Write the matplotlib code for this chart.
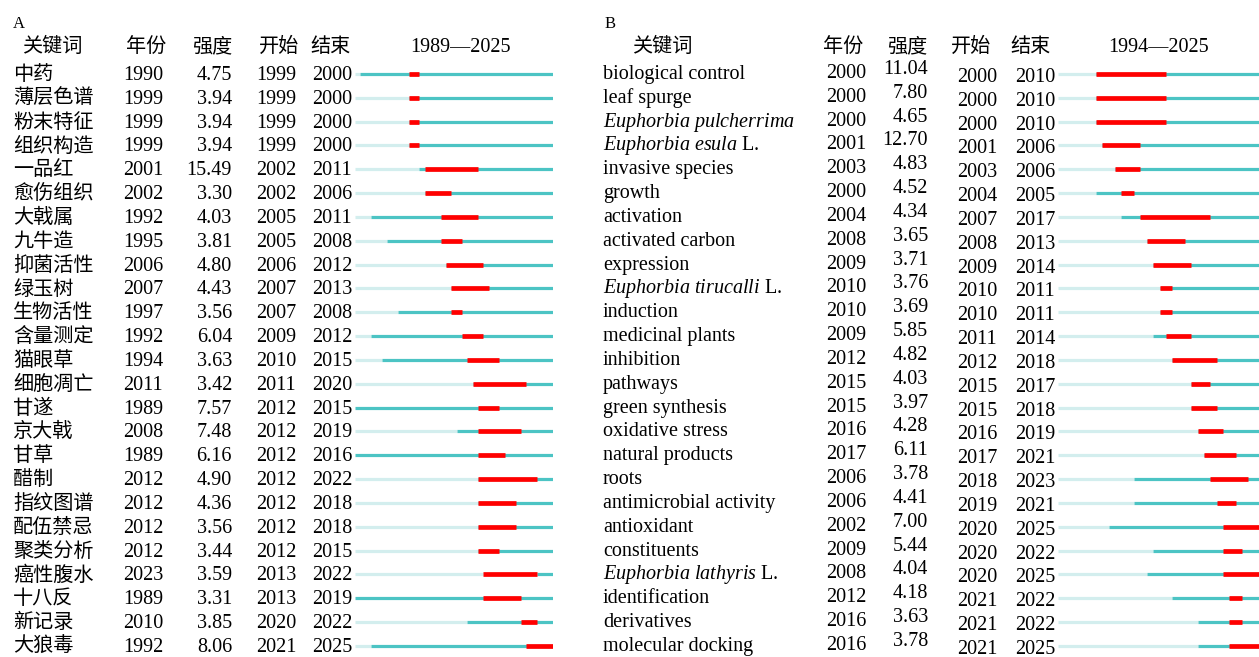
import matplotlib
matplotlib.use("Agg")
import matplotlib.pyplot as plt
from matplotlib import transforms

plt.rcParams["font.family"] = ["Liberation Serif", "Noto Sans CJK SC"]
plt.rcParams["mathtext.fontset"] = "custom"
plt.rcParams["mathtext.rm"] = "Liberation Serif"
plt.rcParams["mathtext.it"] = "Liberation Serif:italic"

W, H = 1259, 657

# panel A: CNKI keywords
a_span = (1989, 2025)
a_keywords = ["中药", "薄层色谱", "粉末特征", "组织构造", "一品红", "愈伤组织", "大戟属",
              "九牛造", "抑菌活性", "绿玉树", "生物活性", "含量测定", "猫眼草", "细胞凋亡",
              "甘遂", "京大戟", "甘草", "醋制", "指纹图谱", "配伍禁忌", "聚类分析",
              "癌性腹水", "十八反", "新记录", "大狼毒"]
a_years = [1990, 1999, 1999, 1999, 2001, 2002, 1992, 1995, 2006, 2007, 1997, 1992, 1994,
           2011, 1989, 2008, 1989, 2012, 2012, 2012, 2012, 2023, 1989, 2010, 1992]
a_strength = [4.75, 3.94, 3.94, 3.94, 15.49, 3.30, 4.03, 3.81, 4.80, 4.43, 3.56, 6.04, 3.63,
              3.42, 7.57, 7.48, 6.16, 4.90, 4.36, 3.56, 3.44, 3.59, 3.31, 3.85, 8.06]
a_begin = [1999, 1999, 1999, 1999, 2002, 2002, 2005, 2005, 2006, 2007, 2007, 2009, 2010,
           2011, 2012, 2012, 2012, 2012, 2012, 2012, 2012, 2013, 2013, 2020, 2021]
a_end = [2000, 2000, 2000, 2000, 2011, 2006, 2011, 2008, 2012, 2013, 2008, 2012, 2015,
         2020, 2015, 2019, 2016, 2022, 2018, 2018, 2015, 2022, 2019, 2022, 2025]

# panel B: WoS keywords
b_span = (1994, 2025)
b_keywords = ["biological control", "leaf spurge", r"$\mathit{Euphorbia\ pulcherrima}$",
              r"$\mathit{Euphorbia\ esula}$ L.", "invasive species", "growth", "activation",
              "activated carbon", "expression", r"$\mathit{Euphorbia\ tirucalli}$ L.",
              "induction", "medicinal plants", "inhibition", "pathways", "green synthesis",
              "oxidative stress", "natural products", "roots", "antimicrobial activity",
              "antioxidant", "constituents", r"$\mathit{Euphorbia\ lathyris}$ L.",
              "identification", "derivatives", "molecular docking"]
b_years = [2000, 2000, 2000, 2001, 2003, 2000, 2004, 2008, 2009, 2010, 2010, 2009, 2012,
           2015, 2015, 2016, 2017, 2006, 2006, 2002, 2009, 2008, 2012, 2016, 2016]
b_strength = [11.04, 7.80, 4.65, 12.70, 4.83, 4.52, 4.34, 3.65, 3.71, 3.76, 3.69, 5.85, 4.82,
              4.03, 3.97, 4.28, 6.11, 3.78, 4.41, 7.00, 5.44, 4.04, 4.18, 3.63, 3.78]
b_begin = [2000, 2000, 2000, 2001, 2003, 2004, 2007, 2008, 2009, 2010, 2010, 2011, 2012,
           2015, 2015, 2016, 2017, 2018, 2019, 2020, 2020, 2020, 2021, 2021, 2021]
b_end = [2010, 2010, 2010, 2006, 2006, 2005, 2017, 2013, 2014, 2011, 2011, 2014, 2018,
         2017, 2018, 2019, 2021, 2023, 2021, 2025, 2022, 2025, 2022, 2022, 2025]

LIGHT = "#d3eeee"
TEAL = "#4cc4c4"
RED = "#ff0000"
FS = 14.5

# timeline of row 0 sits at y=74 px, rows 23.83 px apart
ROW0, ROWH = 74, 23.83
YLIM = ((H - ROW0) / ROWH, -ROW0 / ROWH)


def px(dy):
    # pixel offset -> row units
    return dy / ROWH


def draw_panel(fig, letter, keywords, years, strength, begin, end, span, cols, offs):
    x0, x1 = cols["tl"]
    ax = fig.add_axes([x0 / W, 0, (x1 - x0) / W, 1])
    ax.set_xlim(span[0], span[1] + 1)
    ax.set_ylim(*YLIM)
    ax.axis("off")

    trans = transforms.blended_transform_factory(fig.transFigure, ax.transData)
    hy = px(52 - ROW0)
    ly = px(28 - ROW0)

    fig.text(cols["letter"] / W, ly, letter, transform=trans, fontsize=12, va="baseline")
    heads = [("关键词", cols["kw_h"]), ("年份", cols["yr_h"]), ("强度", cols["st_h"]),
             ("开始", cols["bg_h"]), ("结束", cols["en_h"]),
             (f"{span[0]}—{span[1]}", cols["tl_h"])]
    for txt, x in heads:
        fig.text(x / W, hy, txt, transform=trans, fontsize=FS, ha="center", va="baseline")

    for i, kw in enumerate(keywords):
        fig.text(cols["kw"] / W, i + px(offs["kw"]), kw, transform=trans, fontsize=FS,
                 ha="left", va="baseline")
        fig.text(cols["yr"] / W, i + px(offs["yr"]), str(years[i]), transform=trans,
                 fontsize=FS, ha="center", va="baseline")
        fig.text(cols["st"] / W, i + px(offs["st"]), f"{strength[i]:.2f}", transform=trans,
                 fontsize=FS, ha="right", va="baseline")
        fig.text(cols["bg"] / W, i + px(offs["bg"]), str(begin[i]), transform=trans,
                 fontsize=FS, ha="center", va="baseline")
        fig.text(cols["en"] / W, i + px(offs["bg"]), str(end[i]), transform=trans,
                 fontsize=FS, ha="center", va="baseline")

        ax.plot([span[0], years[i]], [i, i], color=LIGHT, lw=2.3, solid_capstyle="butt")
        ax.plot([years[i], span[1] + 1], [i, i], color=TEAL, lw=2.3, solid_capstyle="butt")
        ax.plot([begin[i], end[i] + 1], [i, i], color=RED, lw=3.4, solid_capstyle="butt")
    return ax


fig = plt.figure(figsize=(W / 100, H / 100), dpi=100)

a_cols = dict(letter=13, kw_h=52, yr_h=146, st_h=212, bg_h=279, en_h=331, tl_h=460,
              kw=13, yr=143, st=232, bg=276, en=332, tl=(355, 553))
a_offs = dict(kw=6, yr=6, st=6, bg=6)
draw_panel(fig, "A", a_keywords, a_years, a_strength, a_begin, a_end, a_span, a_cols, a_offs)

b_cols = dict(letter=605, kw_h=662, yr_h=843, st_h=907, bg_h=971, en_h=1031, tl_h=1159,
              kw=603, yr=846, st=928, bg=977, en=1035, tl=(1058, 1261))
b_offs = dict(kw=5, yr=4, st=0, bg=8)
draw_panel(fig, "B", b_keywords, b_years, b_strength, b_begin, b_end, b_span, b_cols, b_offs)

fig.savefig("out.png", dpi=100)
